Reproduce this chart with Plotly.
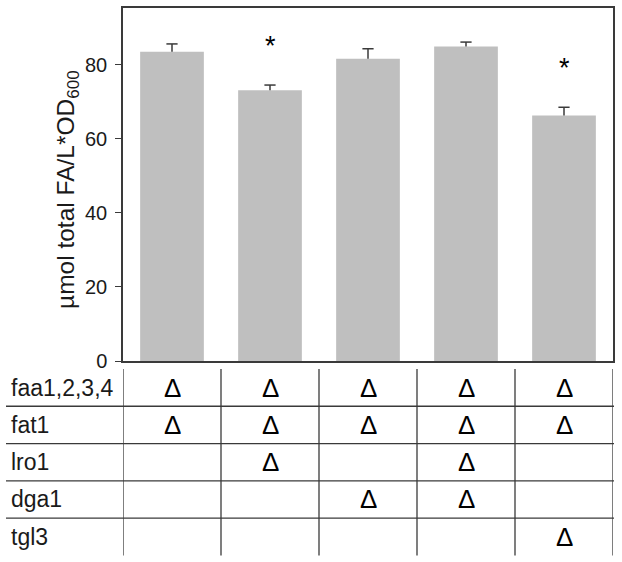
import plotly.graph_objects as go

# ---- data ----
values = [83.5, 73.1, 81.6, 84.9, 66.3]
errors = [2.1, 1.4, 2.7, 1.2, 2.2]
significance = ["", "*", "", "", "*"]
genes = ["faa1,2,3,4", "fat1", "lro1", "dga1", "tgl3"]
deletions = [
    [1, 1, 1, 1, 1],
    [1, 1, 1, 1, 1],
    [0, 1, 0, 1, 0],
    [0, 0, 1, 1, 0],
    [0, 0, 0, 0, 1],
]
y_ticks = [0, 20, 40, 60, 80]
y_title = "µmol total FA/L*OD<sub>600</sub>"

# ---- layout geometry (pixels) ----
W, H = 622, 562
L, R, T, B = 123, 9, 6, 201
pw, ph = W - L - R, H - T - B
FONT = "Liberation Sans, Arial, sans-serif"
LINE = "#3a3a3a"
TXT = "#1a1a1a"

def px_x(px):
    return (px - L) / pw

def px_y(py):
    return (H - B - py) / ph

n = len(values)
xs = list(range(n))

fig = go.Figure()
fig.add_trace(go.Bar(
    x=xs, y=values, width=0.65,
    marker=dict(color="#bfbfbf", line=dict(width=0)),
    showlegend=False, hoverinfo="skip",
))

# upper-only error bars: stems + caps
stem_x, stem_y = [], []
for i, (v, e) in enumerate(zip(values, errors)):
    stem_x += [i, i, None]
    stem_y += [v, v + e, None]
fig.add_trace(go.Scatter(x=stem_x, y=stem_y, mode="lines",
                         line=dict(color=LINE, width=1.5),
                         showlegend=False, hoverinfo="skip"))
fig.add_trace(go.Scatter(x=xs, y=[v + e for v, e in zip(values, errors)],
                         mode="markers",
                         marker=dict(symbol="line-ew", size=8,
                                     line=dict(color=LINE, width=1.5)),
                         showlegend=False, hoverinfo="skip"))

annotations = []
# significance stars
for i, (v, e, s) in enumerate(zip(values, errors, significance)):
    if s:
        annotations.append(dict(x=i, y=v + e + 10.6, xref="x", yref="y",
                                text=s, showarrow=False, yanchor="middle",
                                font=dict(family=FONT, size=27, color="#000")))

# table geometry
row_top = 369
row_h = 37.5
nrows = len(genes)
shapes = []
for r in range(1, nrows):
    yy = px_y(row_top + r * row_h)
    shapes.append(dict(type="line", xref="paper", yref="paper",
                       x0=px_x(6), x1=px_x(614), y0=yy, y1=yy,
                       line=dict(color=LINE, width=1.3)))
for c in range(n + 1):
    shapes.append(dict(type="line", xref="x", yref="paper",
                       x0=c - 0.5, x1=c - 0.5,
                       y0=px_y(row_top), y1=px_y(row_top + nrows * row_h),
                       line=dict(color=LINE, width=1.3)))

for r, g in enumerate(genes):
    yc = px_y(row_top + (r + 0.5) * row_h)
    annotations.append(dict(x=px_x(9), y=yc, xref="paper", yref="paper",
                            text=g, showarrow=False, xanchor="left",
                            yanchor="middle",
                            font=dict(family=FONT, size=23, color=TXT)))
    for c in range(n):
        if deletions[r][c]:
            annotations.append(dict(x=c, y=yc, xref="x", yref="paper",
                                    text="Δ", showarrow=False,
                                    xanchor="center", yanchor="middle",
                                    font=dict(family=FONT, size=26, color="#000")))

# y-axis title
annotations.append(dict(x=px_x(68), y=px_y(189), xref="paper", yref="paper",
                        text=y_title, textangle=-90, showarrow=False,
                        xanchor="center", yanchor="middle",
                        font=dict(family=FONT, size=24.5, color=TXT)))

fig.update_layout(
    width=W, height=H,
    margin=dict(l=L, r=R, t=T, b=B, pad=0),
    paper_bgcolor="white", plot_bgcolor="white",
    bargap=0.35,
    xaxis=dict(range=[-0.5, n - 0.5], showticklabels=False, ticks="",
               showgrid=False, zeroline=False, showline=True,
               linecolor=LINE, linewidth=1.5, mirror=True),
    yaxis=dict(range=[0, 95.3], tickvals=y_ticks, ticks="outside",
               ticklen=6, tickwidth=1.3, tickcolor=LINE,
               ticklabelstandoff=4,
               showgrid=False, zeroline=False, showline=True,
               linecolor=LINE, linewidth=1.5, mirror=True,
               tickfont=dict(family=FONT, size=20, color=TXT)),
    shapes=shapes,
    annotations=annotations,
)

fig.write_html("out.html", config={"displayModeBar": False},
               post_script="document.body.style.margin='0';document.body.style.padding='0';")
